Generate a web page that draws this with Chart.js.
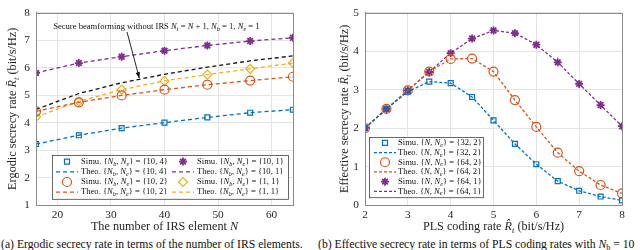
<!DOCTYPE html>
<html><head><meta charset="utf-8">
<script src="https://cdn.jsdelivr.net/npm/chart.js@4"></script>
<style>
html,body{margin:0;padding:0;background:#fff;width:640px;height:250px;overflow:hidden}
#c1{position:absolute;left:0;top:0}
#c2{position:absolute;left:320px;top:0}
.cap{position:absolute;top:239px;font-family:"Liberation Serif",serif;font-size:11.7px;color:#111;white-space:nowrap;line-height:12px}
.cap sub{font-size:8px;vertical-align:-2px;line-height:0}
</style></head><body>
<canvas id="c1" width="320" height="238" style="width:320px;height:238px"></canvas>
<canvas id="c2" width="320" height="238" style="width:320px;height:238px"></canvas>
<div class="cap" style="left:1px">(a) Ergodic secrecy rate in terms of the number of IRS elements.</div>
<div class="cap" style="left:318px">(b) Effective secrecy rate in terms of PLS coding rates with <i>N</i><sub>b</sub> = 10</div>
<script>
// ---------- data (a) ----------
const irsElements   = [16, 24, 32, 40, 48, 56, 64];
const ergodic_10_4  = [3.22, 3.54, 3.80, 4.00, 4.19, 4.36, 4.47];
const ergodic_10_2  = [4.41, 4.74, 4.99, 5.20, 5.38, 5.53, 5.67];
const ergodic_10_1  = [5.81, 6.17, 6.40, 6.62, 6.81, 6.97, 7.09];
const ergodic_1_1   = [4.21, 4.77, 5.20, 5.52, 5.75, 5.96, 6.17];
const noIrsBaseline = [4.48, 5.06, 5.45, 5.76, 6.02, 6.25, 6.43];
const xTicksA = [20, 30, 40, 50, 60];
const yTicksA = [1, 2, 3, 4, 5, 6, 7, 8];

// ---------- data (b) ----------
const codingRates = [2, 2.5, 3, 3.5, 4, 4.5, 5, 5.5, 6, 6.5, 7, 7.5, 8];
const eff_32_2 = [2.00, 2.50, 2.95, 3.21, 3.17, 2.81, 2.20, 1.59, 1.06, 0.62, 0.37, 0.22, 0.12];
const eff_64_2 = [2.00, 2.50, 2.98, 3.47, 3.80, 3.81, 3.47, 2.73, 2.03, 1.36, 0.88, 0.52, 0.30];
const eff_64_1 = [2.01, 2.49, 2.98, 3.46, 3.95, 4.33, 4.54, 4.47, 4.17, 3.71, 3.15, 2.60, 2.05];
const xTicksB = [2, 3, 4, 5, 6, 7, 8];
const yTicksB = [0, 1, 2, 3, 4, 5];

const FONT = '"Liberation Serif", "DejaVu Serif", serif';
const BLUE = '#0072BD', ORANGE = '#D95319', YELLOW = '#EDB120', PURPLE = '#7E2F8E';

const pts = (xs, ys) => xs.map((x, i) => ({x, y: ys[i]}));
function simu(label, xs, ys, color, style, r, bw) {
  return {label, data: pts(xs, ys), showLine: false, pointStyle: style, pointRadius: r,
    pointHoverRadius: r, pointBorderColor: color, pointBackgroundColor: 'rgba(0,0,0,0)',
    pointBorderWidth: bw, borderColor: color, backgroundColor: 'rgba(0,0,0,0)'};
}
function theo(label, xs, ys, color, dash, w) {
  return {label, data: pts(xs, ys), showLine: true, borderColor: color, borderWidth: w || 1.3,
    borderDash: dash, pointRadius: 0, pointHoverRadius: 0, fill: false, tension: 0,
    backgroundColor: 'rgba(0,0,0,0)'};
}

// rich text: $..$ = math (letters italic), _x = subscript, combining marks kept with base
function richTokens(str) {
  const out = []; let math = false, i = 0;
  while (i < str.length) {
    let c = str[i];
    if (c === '$') { math = !math; i++; continue; }
    let sub = false;
    if (c === '_') { sub = true; i++; c = str[i]; }
    i++;
    while (i < str.length && /[\u0300-\u036f]/.test(str[i])) { c += str[i]; i++; }
    out.push({c, sub, italic: math && /[A-Za-z]/.test(c[0])});
  }
  return out;
}
function fontFor(t, size) { return (t.italic ? 'italic ' : '') + (t.sub ? size * 0.72 : size) + 'px ' + FONT; }
function measureRich(ctx, str, size) {
  ctx.save(); let w = 0;
  richTokens(str).forEach(t => { ctx.font = fontFor(t, size); w += ctx.measureText(t.c).width; });
  ctx.restore(); return w;
}
function drawRich(ctx, str, x, y, size, color) {
  ctx.save(); ctx.fillStyle = color; ctx.textBaseline = 'middle'; ctx.textAlign = 'left';
  richTokens(str).forEach(t => {
    ctx.font = fontFor(t, size);
    ctx.fillText(t.c, x, y + (t.sub ? size * 0.28 : 0));
    x += ctx.measureText(t.c).width;
  });
  ctx.restore();
  return x;
}

const framePlugin = {id: 'frame', afterDatasetsDraw(chart) {
  const ca = chart.chartArea, ctx = chart.ctx;
  ctx.save(); ctx.strokeStyle = '#8a8a8a'; ctx.lineWidth = 1;
  ctx.strokeRect(Math.round(ca.left) + 0.5, Math.round(ca.top) + 0.5,
    Math.round(ca.right - ca.left), Math.round(ca.bottom - ca.top));
  ctx.restore();
}};

function titlesPlugin(cfg) {
  return {id: 'titles' + cfg.id, afterDraw(chart) {
    const ca = chart.chartArea, ctx = chart.ctx, fs = 12.2;
    const xw = measureRich(ctx, cfg.xTitle, fs);
    drawRich(ctx, cfg.xTitle, (ca.left + ca.right) / 2 - xw / 2, ca.bottom + cfg.xOff, fs, '#262626');
    const yw = measureRich(ctx, cfg.yTitle, fs);
    ctx.save();
    ctx.translate(cfg.yX, (ca.top + ca.bottom) / 2);
    ctx.rotate(-Math.PI / 2);
    drawRich(ctx, cfg.yTitle, -yw / 2, 0, fs, '#262626');
    ctx.restore();
  }};
}

function legendPlugin(cfg) {
  return {id: 'lg' + cfg.id, afterDraw(chart) {
    const ca = chart.chartArea, ctx = chart.ctx;
    const x0 = Math.round(ca.left + cfg.dx);
    const h = cfg.rows * cfg.rowH + cfg.pad * 2;
    const y0 = Math.round(ca.bottom - cfg.dy - h);
    ctx.save();
    ctx.fillStyle = '#fff'; ctx.fillRect(x0, y0, cfg.w, h);
    ctx.strokeStyle = '#444'; ctx.lineWidth = 0.8; ctx.strokeRect(x0 + 0.5, y0 + 0.5, cfg.w, h);
    cfg.entries.forEach((e, k) => {
      const col = Math.floor(k / cfg.rows), row = k % cfg.rows;
      const sx = x0 + cfg.sx + col * cfg.colW;
      const cy = y0 + cfg.pad + cfg.rowH * (row + 0.5);
      const ds = chart.data.datasets[e.ds];
      if (ds.showLine) {
        ctx.strokeStyle = ds.borderColor; ctx.lineWidth = ds.borderWidth;
        ctx.setLineDash(ds.borderDash || []);
        ctx.beginPath(); ctx.moveTo(sx, cy); ctx.lineTo(sx + cfg.symW, cy); ctx.stroke();
        ctx.setLineDash([]);
      } else {
        ctx.strokeStyle = ds.pointBorderColor; ctx.fillStyle = 'rgba(0,0,0,0)';
        ctx.lineWidth = ds.pointBorderWidth;
        Chart.helpers.drawPoint(ctx, {pointStyle: ds.pointStyle, radius: ds.pointRadius,
          rotation: 0, borderWidth: ds.pointBorderWidth}, sx + cfg.symW / 2, cy);
      }
      drawRich(ctx, e.text, sx + cfg.symW + cfg.gap, cy, cfg.fs, '#111');
    });
    ctx.restore();
  }};
}

function scaleCfg(min, max, ticks, size, isX, tickPad) {
  return {type: 'linear', min, max,
    afterBuildTicks: s => { s.ticks = ticks.map(v => ({value: v})); },
    afterFit: s => { if (isX) s.height = size; else s.width = size; },
    grid: {color: '#e4e4e4', lineWidth: 1, drawTicks: false},
    border: {display: true, color: '#8a8a8a', width: 1},
    ticks: {color: '#262626', font: {family: FONT, size: 11.3}, padding: tickPad,
      maxRotation: 0, autoSkip: false},
    title: {display: false}
  };
}

// annotation for baseline curve in (a)
const noteA = {id: 'noteA', afterDatasetsDraw(chart) {
  const xs = chart.scales.x, ys = chart.scales.y, ctx = chart.ctx;
  drawRich(ctx, 'Secure beamforming without IRS $N_t = N + 1, N_b = 1, N_e = 1$',
    xs.getPixelForValue(19.2), ys.getPixelForValue(7.48), 8.6, '#111');
  const x1 = xs.getPixelForValue(33.0), y1 = ys.getPixelForValue(7.3);
  const x2 = xs.getPixelForValue(35.3), y2 = ys.getPixelForValue(5.62);
  ctx.save(); ctx.strokeStyle = '#111'; ctx.fillStyle = '#111'; ctx.lineWidth = 0.9;
  ctx.beginPath(); ctx.moveTo(x1, y1); ctx.lineTo(x2, y2); ctx.stroke();
  const a = Math.atan2(y2 - y1, x2 - x1), L = 6, W = 2.2;
  ctx.beginPath(); ctx.moveTo(x2, y2);
  ctx.lineTo(x2 - L * Math.cos(a) + W * Math.sin(a), y2 - L * Math.sin(a) - W * Math.cos(a));
  ctx.lineTo(x2 - L * Math.cos(a) - W * Math.sin(a), y2 - L * Math.sin(a) + W * Math.cos(a));
  ctx.closePath(); ctx.fill(); ctx.restore();
}};

const dashA = [4, 3], dashB = [3, 2];

new Chart(document.getElementById('c1'), {
  type: 'scatter',
  data: {datasets: [
    simu('Simu. 10,4', irsElements, ergodic_10_4, BLUE, 'rect', 3.5, 1.2),
    theo('Theo. 10,4', irsElements, ergodic_10_4, BLUE, dashA),
    simu('Simu. 10,2', irsElements, ergodic_10_2, ORANGE, 'circle', 4.5, 1.2),
    theo('Theo. 10,2', irsElements, ergodic_10_2, ORANGE, dashA),
    simu('Simu. 10,1', irsElements, ergodic_10_1, PURPLE, 'star', 4, 1.8),
    theo('Theo. 10,1', irsElements, ergodic_10_1, PURPLE, dashA),
    simu('Simu. 1,1', irsElements, ergodic_1_1, YELLOW, 'rectRot', 4.5, 1.2),
    theo('Theo. 1,1', irsElements, ergodic_1_1, YELLOW, dashA),
    theo('No IRS', irsElements, noIrsBaseline, '#111', dashA)
  ]},
  options: {
    responsive: false, animation: false, devicePixelRatio: 1,
    layout: {padding: {left: 0, right: 27, top: 5, bottom: 0}},
    plugins: {legend: {display: false}, tooltip: {enabled: false}},
    scales: {
      x: scaleCfg(16, 64, xTicksA, 33, true, 3),
      y: scaleCfg(1, 8, yTicksA, 36, false, 6)
    }
  },
  plugins: [framePlugin, noteA,
    titlesPlugin({id: 'a', xTitle: 'The number of IRS element $N$', xOff: 22,
      yTitle: 'Ergodic secrecy rate $R\u0304_t$ (bit/s/Hz)', yX: 13}),
    legendPlugin({id: 'a', dx: 16, dy: 6, w: 236, rows: 4, rowH: 10.2, pad: 1.5,
    sx: 4, symW: 22, gap: 3, colW: 116, fs: 8.6,
    entries: [
      {ds: 0, text: 'Simu. {$N_b$, $N_e$} = {10, 4}'},
      {ds: 1, text: 'Theo. {$N_b$, $N_e$} = {10, 4}'},
      {ds: 2, text: 'Simu. {$N_b$, $N_e$} = {10, 2}'},
      {ds: 3, text: 'Theo. {$N_b$, $N_e$} = {10, 2}'},
      {ds: 4, text: 'Simu. {$N_b$, $N_e$} = {10, 1}'},
      {ds: 5, text: 'Theo. {$N_b$, $N_e$} = {10, 1}'},
      {ds: 6, text: 'Simu. {$N_b$, $N_e$} = {1, 1}'},
      {ds: 7, text: 'Theo. {$N_b$, $N_e$} = {1, 1}'}
    ]})]
});

new Chart(document.getElementById('c2'), {
  type: 'scatter',
  data: {datasets: [
    simu('Simu. 32,2', codingRates, eff_32_2, BLUE, 'rect', 3.5, 1.2),
    theo('Theo. 32,2', codingRates, eff_32_2, BLUE, dashB),
    simu('Simu. 64,2', codingRates, eff_64_2, ORANGE, 'circle', 4.5, 1.2),
    theo('Theo. 64,2', codingRates, eff_64_2, ORANGE, dashB),
    simu('Simu. 64,1', codingRates, eff_64_1, PURPLE, 'star', 4, 1.8),
    theo('Theo. 64,1', codingRates, eff_64_1, PURPLE, dashB)
  ]},
  options: {
    responsive: false, animation: false, devicePixelRatio: 1,
    layout: {padding: {left: 0, right: 18, top: 5, bottom: 0}},
    plugins: {legend: {display: false}, tooltip: {enabled: false}},
    scales: {
      x: scaleCfg(2, 8, xTicksB, 33, true, 3),
      y: scaleCfg(0, 5, yTicksB, 45, false, 6)
    }
  },
  plugins: [framePlugin,
    titlesPlugin({id: 'b', xTitle: 'PLS coding rate $R\u0302_t$ (bit/s/Hz)', xOff: 22,
      yTitle: 'Effective secrecy rate $R\u0304_t$ (bit/s/Hz)', yX: 25}),
    legendPlugin({id: 'b', dx: 4, dy: 8, w: 114, rows: 6, rowH: 9.7, pad: 1,
    sx: 5, symW: 22, gap: 2, colW: 0, fs: 8.6,
    entries: [
      {ds: 0, text: 'Simu. {$N$, $N_e$} = {32, 2}'},
      {ds: 1, text: 'Theo. {$N$, $N_e$} = {32, 2}'},
      {ds: 2, text: 'Simu. {$N$, $N_e$} = {64, 2}'},
      {ds: 3, text: 'Theo. {$N$, $N_e$} = {64, 2}'},
      {ds: 4, text: 'Simu. {$N$, $N_e$} = {64, 1}'},
      {ds: 5, text: 'Theo. {$N$, $N_e$} = {64, 1}'}
    ]})]
});
</script>
</body></html>
